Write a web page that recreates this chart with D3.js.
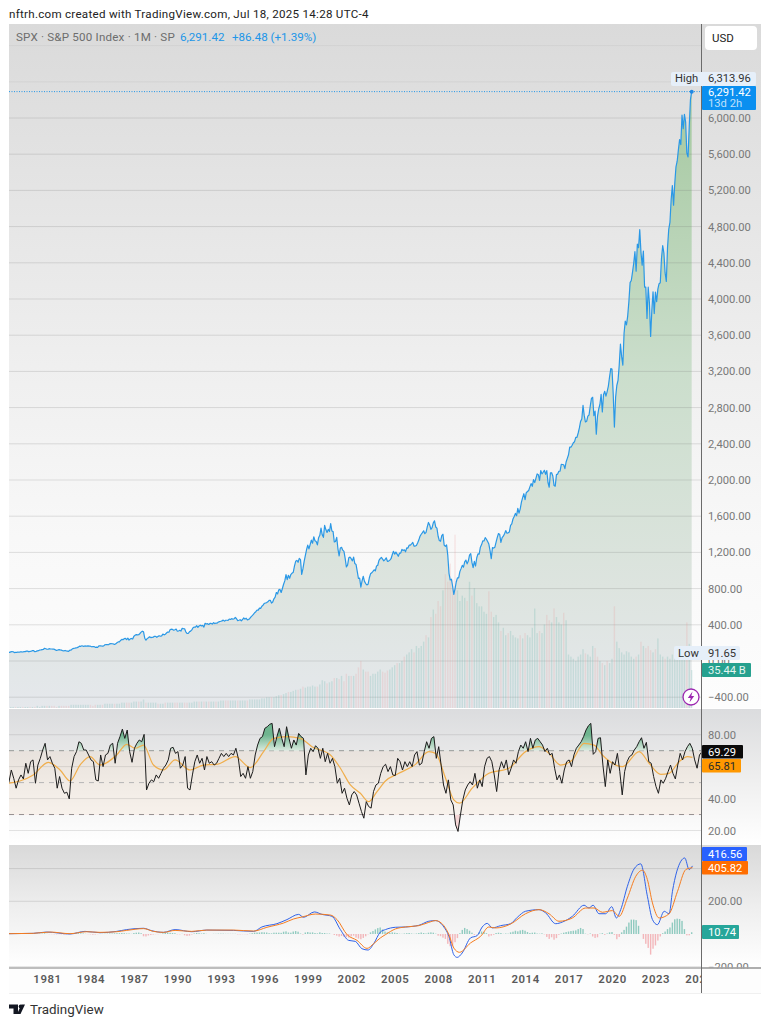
<!DOCTYPE html>
<html><head><meta charset="utf-8">
<script src="https://cdnjs.cloudflare.com/ajax/libs/d3/7.8.5/d3.min.js"></script>
<style>html,body{margin:0;padding:0;background:#fff}svg{display:block}text{font-family:Roboto,"Noto Sans",sans-serif}</style>
</head><body><svg id="c" width="770" height="1024"></svg>
<script>
const priceStart = 1978.33;
const priceValues = [97.3,95.5,100.7,103.3,102.5,93.2,94.7,96.1,
99.9,96.3,101.6,101.8,99.1,102.9,103.8,109.3,109.3,101.8,106.2,107.9,
114.2,113.7,102.1,106.3,111.2,114.2,121.7,122.4,125.5,127.5,140.5,135.8,
129.6,131.3,136.0,132.8,132.6,131.2,130.9,122.8,116.2,121.9,126.4,122.6,
120.4,113.1,112.0,116.4,111.9,109.6,107.1,119.5,120.4,133.7,138.5,140.6,
145.3,148.1,153.0,164.4,162.4,168.1,162.6,164.4,166.1,163.6,166.4,164.9,
163.4,157.1,159.2,160.1,150.6,153.2,150.7,166.7,166.1,166.1,163.6,167.2,
179.6,181.2,180.7,179.8,189.6,191.9,190.9,188.6,182.1,189.8,202.2,211.3,
211.8,226.9,238.9,235.5,247.4,250.8,236.1,252.9,231.3,244.0,249.2,242.2,
274.1,284.2,291.7,288.4,290.1,304.0,318.7,329.8,321.8,251.8,230.3,247.1,
257.1,267.8,258.9,261.3,262.2,273.5,272.0,261.5,271.9,279.0,273.7,277.7,
297.5,288.9,294.9,309.6,320.5,318.0,346.1,351.5,349.2,340.4,346.0,353.4,
329.1,331.9,339.9,330.8,361.2,358.0,356.2,322.6,306.1,304.0,322.2,330.2,
343.9,367.1,375.2,375.3,389.8,371.2,387.8,395.4,387.9,392.5,375.2,417.1,
408.8,412.7,403.7,415.0,415.4,408.1,424.2,414.0,417.8,418.7,431.4,435.7,
438.8,443.4,451.7,440.2,450.2,450.5,448.1,463.6,458.9,467.8,461.8,466.5,
481.6,467.1,445.8,450.9,456.5,444.3,458.3,475.5,462.7,472.4,453.7,459.3,
470.4,487.4,500.7,514.7,533.4,544.8,562.1,561.9,584.4,581.5,605.4,615.9,
636.0,640.4,645.5,654.2,669.1,670.6,640.0,652.0,687.3,705.3,757.0,740.7,
786.2,790.8,757.1,801.3,848.3,885.1,954.3,899.5,947.3,914.6,955.4,970.4,
980.3,1049.3,1101.8,1111.8,1090.8,1133.8,1120.7,957.3,1017.0,1098.7,1163.6,1229.2,
1279.6,1238.3,1286.4,1335.2,1301.8,1372.7,1328.7,1320.4,1282.7,1362.9,1388.9,1469.3,
1394.5,1366.4,1498.6,1452.4,1420.6,1454.6,1430.8,1517.7,1436.5,1429.4,1315.0,1320.3,
1366.0,1239.9,1160.3,1249.5,1255.8,1224.4,1211.2,1133.6,1040.9,1059.8,1139.5,1148.1,
1130.2,1106.7,1147.4,1076.9,1067.1,989.8,911.6,916.1,815.3,885.8,936.3,879.8,
855.7,841.2,848.2,916.9,963.6,974.5,990.3,1008.0,996.0,1050.7,1058.2,1111.9,
1131.1,1144.9,1126.2,1107.3,1120.7,1140.8,1101.7,1104.2,1114.6,1130.2,1173.8,1211.9,
1181.3,1203.6,1180.6,1156.9,1191.5,1191.3,1234.2,1220.3,1228.8,1207.0,1249.5,1248.3,
1280.1,1280.7,1294.9,1310.6,1270.1,1270.2,1276.7,1303.8,1335.9,1377.9,1400.6,1418.3,
1438.2,1406.8,1420.9,1482.4,1530.6,1503.4,1455.3,1474.0,1526.8,1549.4,1481.1,1468.4,
1378.5,1330.6,1322.7,1385.6,1400.4,1280.0,1267.4,1282.8,1166.4,968.8,896.2,903.3,
825.9,735.1,797.9,872.8,919.1,919.3,987.5,1020.6,1057.1,1036.2,1095.6,1115.1,
1073.9,1104.5,1169.4,1186.7,1089.4,1030.7,1101.6,1049.3,1141.2,1183.3,1180.6,1257.6,
1286.1,1327.2,1325.8,1363.6,1345.2,1320.6,1292.3,1218.9,1131.4,1253.3,1247.0,1257.6,
1312.4,1365.7,1408.5,1397.9,1310.3,1362.2,1379.3,1406.6,1440.7,1412.2,1416.2,1426.2,
1498.1,1514.7,1569.2,1597.6,1630.7,1606.3,1685.7,1633.0,1681.6,1756.5,1805.8,1848.4,
1782.6,1859.5,1872.3,1884.0,1923.6,1960.2,1930.7,2003.4,1972.3,2018.1,2067.6,2058.9,
1995.0,2104.5,2067.9,2085.5,2107.4,2063.1,2103.8,1972.2,1920.0,2079.4,2080.4,2043.9,
1940.2,1932.2,2059.7,2065.3,2097.0,2098.9,2173.6,2171.0,2168.3,2126.2,2198.8,2238.8,
2278.9,2363.6,2362.7,2384.2,2411.8,2423.4,2470.3,2471.7,2519.4,2575.3,2647.6,2673.6,
2823.8,2713.8,2640.9,2648.1,2705.3,2718.4,2816.3,2901.5,2914.0,2711.7,2760.2,2506.9,
2704.1,2784.5,2834.4,2945.8,2752.1,2941.8,2980.4,2926.5,2976.7,3037.6,3141.0,3230.8,
3225.5,2954.2,2584.6,2912.4,3044.3,3100.3,3271.1,3500.3,3363.0,3270.0,3621.6,3756.1,
3714.2,3811.2,3972.9,4181.2,4204.1,4297.5,4395.3,4522.7,4307.5,4605.4,4567.0,4766.2,
4515.6,4373.9,4530.4,4131.9,4132.2,3785.4,4130.3,3955.0,3585.6,3872.0,4080.1,3839.5,
4076.6,3970.2,4109.3,4169.5,4179.8,4450.4,4589.0,4507.7,4288.1,4193.8,4567.8,4769.8,
4845.7,5096.3,5254.4,5035.7,5277.5,5460.5,5522.3,5648.4,5762.5,5705.5,6032.4,5882.0,
6040.5,5954.5,5611.9,5569.1,5911.7,6205.0,6291.42];

const volumeStart = 1978.33;
const volumeValues = [1,1,1,1,
1,1,1,1,1,1, 1,1,2,1,2,2, 2,2,2,2,1,2, 2,2,2,2,3,3, 3,3,3,3,3,3, 3,2,3,3,3,3,
4,4,4,4,4,4, 4,5,5,5,5,5, 6,6,6,6,8,5, 5,5,5,5,4,4, 4,5,5,5,5,5, 5,5,5,5,5,5,
5,6,6,6,6,6, 6,6,6,6,6,6, 7,7,7,7,7,7, 7,7,7,7,7,7, 8,8,8,8,8,9, 9,10,10,10,10,11,
12,12,13,14,15,15, 16,17,17,18,20,19, 20,20,21,20,20,22, 26,25,23,24,25,28,
28,27,30,25,32,30, 30,30,32,38,44,36, 34,34,30,32,32,34, 36,34,33,35,36,38,
40,42,42,44,48,50, 52,55,52,58,56,58, 62,68,66,85,92,88, 100,95,110,125,118,135,
120,162,110,100,105,103, 100,118,105,112,98,95, 95,90,88,109,90,85, 87,80,72,75,68,70,
72,68,66,65,68,65, 70,68,66,75,93,70, 72,70,78,87,82,80, 93,85,80,78,89,82,
50,48,46,44,48,50, 55,51,50,48,58,56, 48,44,42,40,44,42, 46,95,62,56,52,50,
53,52,48,46,48,50, 62,58,56,58,54,52, 55,65,50,48,46,48, 46,50,47,48,46,50, 50,80,60,35.44];

const rsiStart = 1978.37;
const rsiValues = [50.2,57.9,52.7,46.5,51.7,54.8,52.3,62.1,55.8,63.1,64.2,49.6,61,65.2,70.4,74.6,64.2,66.3,62.1,59,46.5,53.8,46.5,43.3,44,39.8,59,66.3,69.4,75.6,74.6,70.4,70.4,67.3,64.2,63.1,51.7,51,67.3,60,67.3,68.3,73.5,74.6,62.1,74.6,78.8,83.5,77.7,82.9,69.4,62.7,71.5,74.6,76.7,75.6,80.2,45.4,49.6,51.7,50.6,54.8,52.7,55.8,59,61,64.2,71.5,72.1,68.3,69.4,59,61,66.3,46.5,45.4,54.8,63.1,67.3,62.1,65.2,57.9,66.3,62.1,63.1,61,62.1,65.2,68.3,66.3,68.3,66.3,68.3,67.3,71.5,65.2,53.8,55.8,52.7,60,52.7,56.9,67.3,73.5,77.7,78.8,84,85,86.5,87.1,72.5,78.8,84,77.7,72.5,85,77.7,71.5,76.7,73.5,80.8,78.8,77.7,54.8,67.3,71.5,69.4,73.1,71.5,65.2,71.5,63.1,68.3,62.1,65.2,60,49.6,52.7,43.3,46.5,40.2,36,42.3,44.4,42.3,37.1,31.9,27.7,38.1,35,34,44.4,48.5,49.6,55.8,60,61.5,56.9,
60,54.8,54.4,65.2,63.1,57.9,63.1,60,63.1,60,67.3,69.4,61,62.1,69.4,75.6,71.5,77.7,78.8,65.2,72.5,61,48.5,43.3,51.7,39.2,36,23.5,19.4,29.8,39.2,45.4,48.5,50.6,48.5,55.8,46.5,51.7,47.5,60,65.2,66.3,63.1,54.8,44.4,57.9,63.1,59,64.2,54.8,59,64.2,62.1,69.4,73.5,71.5,75.6,69.4,77.7,71.5,76.7,77.7,75.6,73.5,69.4,71.5,67.3,68.3,59,51.7,54.8,49.6,57.9,63.1,64.2,60,67.3,71.5,73.5,75.6,78.8,82.9,85.6,87.1,67.7,69.4,77.7,78.1,61,47.5,64.2,55.8,63.1,61,68.3,56.9,42.3,56.9,63.1,66.3,67.3,70.4,72.5,75.6,78.1,71.5,75.2,63.1,62.1,53.8,47.5,43.3,51.7,49.6,52.7,56.9,61,55.8,52.3,61,68.3,64.2,69.4,72.5,74.6,71.5,64.2,59,67.3,69.29];

const rsiMaYears = [1978.37,1979.13,1980.05,1981.09,1981.9,1982.59,1983.28,1983.97,1984.66,1985.81,1986.5,1987.08,1987.66,1988.35,1989.04,1989.84,1990.88,1991.8,1992.72,1993.99,1995.03,1995.95,1996.64,1997.56,1998.48,1999.29,2000.56,2001.25,2001.94,2002.63,2003.2,2003.78,2004.36,2005.28,2006.43,2007.35,2007.82,2008.51,2009.08,2009.47,2010.35,2011.5,2012.88,2014.03,2014.96,2015.65,2016.45,2017.26,2018.07,2018.76,2019.33,2020.72,2021.87,2022.56,2023.36,2023.94,2024.63,2025.21,2025.55];
const rsiMaValues = [49.6,51,54.8,62.7,57.9,51,61,66.3,61,67.3,74,71.5,73.5,61,57.9,64.2,57.9,61,61.4,66.3,59.4,69.4,77.7,78.8,77.7,72.5,67.3,59,48.5,43.3,38.1,44.4,51,55.8,61.4,69.4,68.3,52.7,39.2,37.1,46.5,55.8,59,69.4,72.5,68.3,61,64.2,74.6,73.5,67.3,60,69.4,62.1,55.2,55.8,63.1,66.3,65.81];

const macdYears = [1978.37,1980.05,1980.97,1982.59,1983.62,1984.66,1985.81,1986.5,1987.66,1988.23,1989.04,1989.84,1990.99,1992.03,1993.88,1995.26,1995.83,1996.87,1997.56,1998.37,1998.71,1999.45,1999.98,2000.67,2001.25,2001.82,2002.28,2002.74,2003.16,2003.55,2004.01,2004.36,2005.05,2005.74,2006.66,2007.35,2007.82,2008.39,2008.74,2009.08,2009.31,2009.66,2010.23,2010.69,2011.04,2011.39,2011.73,2012.31,2013,2013.46,2014.03,2014.96,2015.42,2016.11,2016.57,2017.26,2018.07,2018.41,2018.69,2019.1,2019.56,2019.98,2020.3,2020.6,2021.06,2021.52,2021.98,2022.44,2022.79,2023.13,2023.6,2023.94,2024.17,2024.75,2025.02,2025.32,2025.55];
const macdValues = [2,4,12,0,16,8,16,27,35,20,10,27,14,24,22,16,43,63,88,120,102,135,120,108,27,-39,-45,-90,-98,-59,12,27,41,43,53,78,82,43,-14,-127,-143,-116,-24,-10,43,65,37,51,63,102,139,149,129,63,73,108,176,159,176,124,124,167,98,149,292,398,429,231,88,57,139,124,261,445,465,394,416.56];
const signalYears = [1978.37,1980.05,1981.2,1982.59,1983.74,1984.66,1985.81,1986.5,1987.66,1988.35,1989.04,1989.84,1990.99,1992.03,1993.88,1995.26,1996.18,1997.33,1998.02,1998.6,1999.52,2000.56,2001.02,2001.71,2002.4,2003.09,2003.55,2004.01,2004.36,2005.05,2005.74,2006.66,2007.35,2007.82,2008.39,2008.74,2009.08,2009.47,2010.23,2010.93,2011.5,2011.96,2013,2014.03,2014.96,2015.65,2016.34,2017.26,2018.18,2018.76,2019.33,2020.03,2020.49,2021.06,2021.64,2022.1,2022.44,2022.79,2023.25,2023.94,2024.52,2025.09,2025.44,2025.55];
const signalValues = [2,4,12,2,14,10,14,22,33,16,10,22,16,24,24,18,41,67,92,104,122,116,88,-4,-39,-88,-59,-24,-4,31,43,51,71,82,51,-4,-86,-112,-55,-14,43,37,61,124,149,124,78,98,159,159,133,143,108,220,353,390,333,190,98,124,261,394,404,405.82];
const histStart = 1978.33;
const histValues = [0,1,0,1,
1,0,1,1,1,2, 2,3,1,2,3,4, 1,-1,-1,-2,-2,-1, -2,-3,-2,-1,2,3, 4,5,4,3,1,-1, -2,-4,-3,-1,1,1,
2,2,3,3,4,5, 5,6,5,3,3,1, 6,8,9,5,-14,-15, -9,-6,-3,-1,-1,1, 4,6,9,7,6,5, -2,-2,1,-8,-12,-10,
-3,3,6,5,3,5, 1,0,0,1,1,2, 2,2,1,1,1,1, 1,-2,-2,-1,-1,-2, 2,5,8,9,9,11, 10,9,5,4,8,8,
8,7,14,16,9,8, 15,18,14,3,-3,9, 12,9,10,6,4,10, 6,6,3,3,0,-6,
-10,-16,-12,-17,-20,-22, -14,-10,-22,-28,-32,-24, -14,-2,10,18,28,36, 40,28,15,10,7,10,
8,6,2,1,3,5, 6,3,1,3,6,9, 6,3,8,10,8,2, -10,-13,-22,-30,-60,-75,
-75,-50,-25,5,25,37, 30,20,8,-5,-2,10, 15,12,5,-15,-10,-5, 6,8,6,1,3,2,
10,14,20,16,22,25, 20,12,6,8,9,3, 2,4,-2,-18,-30,-20, -35,-25,-5,3,8,12,
15,18,20,22,30,37, 30,2,-2,3,-15,-24, -20,2,5,-5,3,10, 12,-5,-32,-18,10,25,
45,70,88,88,85,50, 0,-30,-60,-85,-126,-90, -70,-40,-15,5,15,30, 40,70,90,94,92,80, 30,-8,-8,10.74];

const priceTicks = [-400,0,400,800,1200,1600,2000,2400,2800,3200,3600,4000,4400,4800,5200,5600,6000];
const priceGrid = [6400,6800];
const rsiTicks = [80,40,20];
const rsiGrid = [80,60,40,20];
const rsiBands = [70,50,30];
const macdTicks = [200,-200];
const macdGrid = [400,200,-200];
const yearTicks = [1981,1984,1987,1990,1993,1996,1999,2002,2005,2008,2011,2014,2017,2020,2023,2026];

const svg = d3.select('#c');
const L=9, A=701.5, R=761;
const x = d3.scaleLinear().domain([1981,2023]).range([47,655.5]);
const yP = d3.scaleLinear().domain([0,6000]).range([661,118]);
const yV = d3.scaleLinear().domain([0,100]).range([708,601]);
const yR = d3.scaleLinear().domain([20,80]).range([830.5,734.7]);
const yM = d3.scaleLinear().domain([-200,200]).range([966.7,901.3]);

const defs = svg.append('defs');
function grad(id,stops,y1,y2){
  const g=defs.append('linearGradient').attr('id',id).attr('gradientUnits','userSpaceOnUse').attr('x1',0).attr('x2',0).attr('y1',y1).attr('y2',y2);
  stops.forEach(s=>g.append('stop').attr('offset',s[0]).attr('stop-color',s[1]));
}
grad('bg1',[[0,'#dadada'],[.5,'#efefef'],[.75,'#f8f8f8'],[1,'#fdfdfd']],24,708);
grad('bg2',[[0,'#dbdcde'],[.5,'#eeeeee'],[1,'#ffffff']],709,844);
grad('bg3',[[0,'#d9d9d9'],[.5,'#eeeeee'],[1,'#ffffff']],845,968);
grad('area',[[0,'#a6c9a1'],[.45,'#cbdecc'],[.8,'#dde4df'],[1,'#e5e8ec']],100,708);
grad('rsiG',[[0,'#6fb58f'],[1,'#e3efe6']],735,752);
[['clipP',L,24,A-L,684],['clipR',L,709,A-L,135],['clipM',L,845,A-L,123],['clipT',L,968,A-L,26],
 ['over70',L,709,A-L,yR(70)-709],['under30',L,yR(30),A-L,30]].forEach(c=>
  defs.append('clipPath').attr('id',c[0]).append('rect').attr('x',c[1]).attr('y',c[2]).attr('width',c[3]).attr('height',c[4]));

svg.append('text').attr('x',9).attr('y',18).attr('font-size',11.6).attr('letter-spacing','.27px').attr('fill','#222').text('nftrh.com created with TradingView.com, Jul 18, 2025 14:28 UTC-4');

// pane backgrounds
svg.append('rect').attr('x',L).attr('y',24).attr('width',R-L).attr('height',684).attr('fill','url(#bg1)');
svg.append('rect').attr('x',L).attr('y',709).attr('width',R-L).attr('height',135).attr('fill','url(#bg2)');
svg.append('rect').attr('x',L).attr('y',845).attr('width',R-L).attr('height',123).attr('fill','url(#bg3)');
svg.append('rect').attr('x',L).attr('y',969).attr('width',R-L).attr('height',24).attr('fill','#fdfdfd');
svg.append('line').attr('x1',L).attr('x2',R).attr('y1',993.5).attr('y2',993.5).attr('stroke','#f0f0f0');

// price pane
const gP = svg.append('g').attr('clip-path','url(#clipP)');
const priceData = priceValues.map((v,i)=>[priceStart+i/12,v]);
gP.append('path').datum(priceData).attr('fill','url(#area)')
  .attr('d',d3.area().x(d=>x(d[0])).y0(708).y1(d=>yP(d[1])));
const gridColor='rgba(110,110,110,.2)';
gP.selectAll('.g').data(priceTicks).join('line')
  .attr('x1',L).attr('x2',A).attr('y1',d=>yP(d)).attr('y2',d=>yP(d)).attr('stroke',gridColor);
gP.selectAll('.g2').data(priceGrid).join('line')
  .attr('x1',L).attr('x2',A).attr('y1',d=>yP(d)).attr('y2',d=>yP(d)).attr('stroke','rgba(110,110,110,.08)');
const vol = volumeValues.map((v,i)=>{
  const yr=volumeStart+i/6, k=Math.min(priceValues.length-1,Math.round((yr-priceStart)*12));
  return {yr,v,up:priceValues[k]>=priceValues[Math.max(0,k-2)]};
});
gP.selectAll('.v').data(vol).join('rect')
  .attr('x',d=>x(d.yr)-.7).attr('width',1.4)
  .attr('y',d=>yV(d.v)).attr('height',d=>708-yV(d.v))
  .attr('fill',d=>d.up?'#4fa8a0':'#ea8f8f').attr('fill-opacity',.2);
gP.append('line').attr('x1',L).attr('x2',A).attr('y1',yP(6291.42)).attr('y2',yP(6291.42))
  .attr('stroke','#2196e8').attr('stroke-width',1).attr('stroke-dasharray','1 1.5');
gP.append('path').datum(priceData).attr('fill','none').attr('stroke','#2a98e6').attr('stroke-width',1.2).attr('stroke-linejoin','round')
  .attr('d',d3.line().x(d=>x(d[0])).y(d=>yP(d[1])));
gP.append('circle').attr('cx',x(2025.5)).attr('cy',yP(6291.42)).attr('r',2).attr('fill','#1e88e5');

// RSI pane
const gR = svg.append('g').attr('clip-path','url(#clipR)');
gR.append('rect').attr('x',L).attr('width',A-L).attr('y',yR(70)).attr('height',yR(30)-yR(70)).attr('fill','#ffb060').attr('fill-opacity',.08);
gR.selectAll('.g').data(rsiGrid).join('line').attr('x1',L).attr('x2',A).attr('y1',d=>yR(d)).attr('y2',d=>yR(d)).attr('stroke','rgba(110,110,110,.18)');
gR.selectAll('.b').data(rsiBands).join('line').attr('x1',L).attr('x2',A).attr('y1',d=>yR(d)).attr('y2',d=>yR(d))
  .attr('stroke',d=>d===50?'#b5b5b5':'#8a8a8a').attr('stroke-width',1).attr('stroke-dasharray','5 5');
const rsiData = rsiValues.map((v,i)=>[rsiStart+i/6,v]);
gR.append('path').datum(rsiData).attr('clip-path','url(#over70)').attr('fill','url(#rsiG)')
  .attr('d',d3.area().x(d=>x(d[0])).y0(yR(70)).y1(d=>yR(d[1])));
gR.append('path').datum(rsiData).attr('clip-path','url(#under30)').attr('fill','#f4b6b6').attr('fill-opacity',.5)
  .attr('d',d3.area().x(d=>x(d[0])).y0(yR(30)).y1(d=>yR(d[1])));
gR.append('path').datum(d3.zip(rsiMaYears,rsiMaValues)).attr('fill','none').attr('stroke','#f0ae4c').attr('stroke-width',1.2)
  .attr('d',d3.line().curve(d3.curveMonotoneX).x(d=>x(d[0])).y(d=>yR(d[1])));
gR.append('path').datum(rsiData).attr('fill','none').attr('stroke','#1c1c1c').attr('stroke-width',1).attr('stroke-linejoin','round')
  .attr('d',d3.line().x(d=>x(d[0])).y(d=>yR(d[1])));

// MACD pane
const gM = svg.append('g').attr('clip-path','url(#clipM)');
gM.selectAll('.g').data(macdGrid).join('line').attr('x1',L).attr('x2',A).attr('y1',d=>yM(d)).attr('y2',d=>yM(d)).attr('stroke','rgba(110,110,110,.2)');
const hist = histValues.map((v,i)=>({yr:histStart+i/6,v}));
gM.selectAll('.h').data(hist).join('rect')
  .attr('x',d=>x(d.yr)-.7).attr('width',1.4)
  .attr('y',d=>Math.min(yM(0),yM(d.v))).attr('height',d=>Math.abs(yM(d.v)-yM(0)))
  .attr('fill',d=>d.v>=0?'#6dbcae':'#f2a0a5').attr('fill-opacity',.75);
const mLine=d3.line().curve(d3.curveMonotoneX).x(d=>x(d[0])).y(d=>yM(d[1]));
gM.append('path').datum(d3.zip(macdYears,macdValues)).attr('fill','none').attr('stroke','#2f62e8').attr('stroke-width',1).attr('d',mLine);
gM.append('path').datum(d3.zip(signalYears,signalValues)).attr('fill','none').attr('stroke','#f57c1f').attr('stroke-width',1).attr('d',mLine);

// separators
svg.append('line').attr('x1',L).attr('x2',R).attr('y1',968).attr('y2',968).attr('stroke','#a8a8a8').attr('stroke-width',1.6);
svg.append('line').attr('x1',A).attr('x2',A).attr('y1',24).attr('y2',993).attr('stroke','#6b6b6b').attr('stroke-width',1);

// axes
function styleAxis(g,c){g.select('.domain').remove();g.selectAll('.tick line').remove();
  g.selectAll('text').attr('font-size',11.2).attr('fill',c||'#787878').attr('font-family','Roboto');}
const fmt=d=>(d<0?'\u2212':'')+d3.format(',.2f')(Math.abs(d));
svg.append('g').attr('transform',`translate(${A+6.5},0)`)
  .call(d3.axisRight(yP).tickValues(priceTicks).tickFormat(fmt).tickSize(0).tickPadding(0)).call(styleAxis);
svg.append('g').attr('transform',`translate(${A+6.5},0)`)
  .call(d3.axisRight(yR).tickValues(rsiTicks).tickFormat(fmt).tickSize(0).tickPadding(0)).call(styleAxis);
svg.append('g').attr('transform',`translate(${A+6.5},0)`)
  .call(d3.axisRight(yM).tickValues(macdTicks).tickFormat(fmt).tickSize(0).tickPadding(0)).call(styleAxis);
svg.append('g').attr('clip-path','url(#clipT)').attr('transform','translate(0,0)')
  .append('g').attr('transform','translate(0,975)')
  .call(d3.axisBottom(x).tickValues(yearTicks).tickFormat(d3.format('d')).tickSize(0).tickPadding(0))
  .call(g=>{styleAxis(g,'#5a5a5a');g.selectAll('text').attr('font-weight',600).attr('letter-spacing','.6px').attr('font-size',11.4);});

// re-cover the -200 label below the pane line
svg.append('rect').attr('x',A+1).attr('y',969).attr('width',R-A-1).attr('height',24).attr('fill','#fdfdfd');
svg.append('line').attr('x1',A+.5).attr('x2',R).attr('y1',968).attr('y2',968).attr('stroke','#a8a8a8').attr('stroke-width',1.6);

// legend
const leg=svg.append('text').attr('x',16).attr('y',41).attr('font-size',11.6).attr('fill','#6d6d6d');
leg.append('tspan').attr('letter-spacing','.2px').text('SPX \u00b7 S&P 500 Index \u00b7 1M \u00b7 SP');
leg.append('tspan').attr('x',180).attr('fill','#2196e8').text('6,291.42');
leg.append('tspan').attr('x',232).attr('fill','#2196e8').text('+86.48 (+1.39%)');

// boxes
function box(x0,y0,w,h,fill,r){return svg.append('rect').attr('x',x0).attr('y',y0).attr('width',w).attr('height',h).attr('fill',fill).attr('rx',r||0);}
function lab(x0,y0,t,c,s,a){return svg.append('text').attr('x',x0).attr('y',y0).attr('font-size',s||11.2).attr('fill',c).attr('text-anchor',a||'start').text(t);}
box(705,26,52,24,'#ffffff',4); lab(712,42,'USD','#222',11.5);
box(671,72,85,14,'#e6eff9',2); lab(675,82,'High','#333'); lab(708,82,'6,313.96','#333');
box(702,86,54,24,'#0a8ff0',1); lab(708,95.5,'6,291.42','#fff'); lab(708,107,'13d 2h','#bfe0fb');
box(674,646,66,14,'#e6eff9',2); lab(678,657,'Low','#333'); lab(708,657,'91.65','#333');
box(702,663,49,14,'#26a18f',1); lab(708,674,'35.44 B','#e4f5f1');
box(702,745,41,13.5,'#0a0a0a',1); lab(708,755.5,'69.29','#fff');
box(702,759,39,13.5,'#ff9800',1); lab(708,769.5,'65.81','#2b2b2b');
box(702,847,45,14,'#2962ff',1); lab(708,858,'416.56','#fff');
box(702,861,46,13.5,'#ff6d00',1); lab(708,871.5,'405.82','#fff');
box(702,925,37,14,'#26a69a',1); lab(708,936,'10.74','#fff');

// purple flash icon
svg.append('circle').attr('cx',691).attr('cy',697).attr('r',8).attr('fill','#fff').attr('stroke','#9c27b0').attr('stroke-width',1.3);
svg.append('path').attr('d','M692.5 691.5 L687.8 698 L690.7 698 L689.5 702.5 L694.2 696 L691.3 696 Z').attr('fill','#9c27b0');

// footer logo
svg.append('path').attr('d','M9 1004.5 H18 V1014 H13.5 V1008.5 H9 Z M25 1004.5 L20.5 1014 H17 L21.5 1004.5 Z').attr('fill','#131722');
svg.append('circle').attr('cx',20.6).attr('cy',1006.5).attr('r',1.9).attr('fill','#131722');
lab(30,1014.3,'TradingView','#333',13.4);
</script></body></html>
